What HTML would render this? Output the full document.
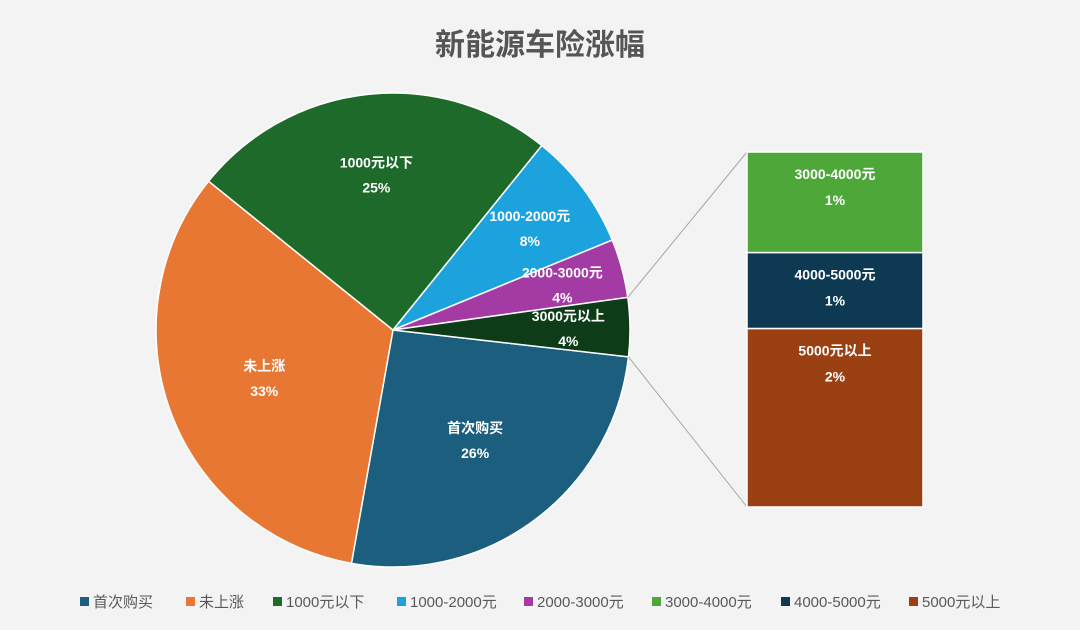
<!DOCTYPE html>
<html><head><meta charset="utf-8"><style>
html,body{margin:0;padding:0;background:#f3f3f3;}
svg{display:block;font-family:"Liberation Sans","Noto Sans CJK SC",sans-serif;}
</style></head><body>
<svg id="chart" width="1080" height="630" viewBox="0 0 1080 630">
<rect width="1080" height="630" fill="#f3f3f3"/>
<text x="540" y="55" text-anchor="middle" font-size="30" font-weight="bold" fill="#555">新能源车险涨幅</text>
<g id="pie"></g>
<g id="bar"></g>
<g id="legend"></g>
</svg>
<script>
const pieCats = ["首次购买","未上涨","1000元以下","1000-2000元","2000-3000元","3000元以上"];
const pieVals = [26,33,25,8,4,4];
const pieColors = ["#1b5e7e","#e87733","#1e6a2b","#1ca2dc","#a43ba5","#0f3c18"];
const barCats = ["3000-4000元","4000-5000元","5000元以上"];
const barVals = [1.1,0.83,1.95];
const barLabels = ["1%","1%","2%"];
const barColors = ["#4ea839","#0d3a52","#9a4013"];
const legendCats = ["首次购买","未上涨","1000元以下","1000-2000元","2000-3000元","3000-4000元","4000-5000元","5000元以上"];
const legendColors = ["#1b5e7e","#e87733","#1e6a2b","#1ca2dc","#a43ba5","#4ea839","#0d3a52","#9a4013"];

const NS="http://www.w3.org/2000/svg";
function mk(t,a,p){const e=document.createElementNS(NS,t);for(const k in a)e.setAttribute(k,a[k]);p.appendChild(e);return e;}
const cx=393,cy=330,r=237,start=6.5;
const total=pieVals.reduce((a,b)=>a+b,0);
const pie=document.getElementById('pie');
function pt(deg,rr){const a=deg*Math.PI/180;return [cx+rr*Math.cos(a),cy+rr*Math.sin(a)];}
let ang=start;
const lblR=[0.58,0.58,0.66,0.72,0.74,0.74];
pieVals.forEach((v,i)=>{
  const sw=v/total*360,a0=ang,a1=ang+sw;
  const p0=pt(a0,r),p1=pt(a1,r);
  const s=mk('path',{d:`M${cx},${cy}L${p0[0]},${p0[1]}A${r},${r} 0 ${sw>180?1:0} 1 ${p1[0]},${p1[1]}Z`,fill:pieColors[i],stroke:'#fff','stroke-width':1.5},pie);
  
  
  const m=pt((a0+a1)/2,r*lblR[i]);
  const t=mk('text',{x:m[0],y:m[1]-7,'text-anchor':'middle','font-size':14,'font-weight':'bold',fill:'#fff'},pie);
  t.textContent=pieCats[i];
  
  
  const t2=mk('text',{x:m[0],y:m[1]+18,'text-anchor':'middle','font-size':14,'font-weight':'bold',fill:'#fff'},pie);
  t2.textContent=Math.round(v)+'%';
  
  
  ang=a1;
});
const lastStart=start+360-pieVals[pieVals.length-1]/total*360;
const bx=747,bw=176,by=152,bh=355;
const bar=document.getElementById('bar');
const q0=pt(lastStart,r),q1=pt(start,r);
const l1=mk('line',{x1:q0[0],y1:q0[1],x2:bx,y2:by,stroke:'#a6a6a6','stroke-width':1},bar);


const l2=mk('line',{x1:q1[0],y1:q1[1],x2:bx,y2:by+bh,stroke:'#a6a6a6','stroke-width':1},bar);


const bt=barVals.reduce((a,b)=>a+b,0);
let yy=by;
barVals.forEach((v,i)=>{
  const h=v/bt*bh;
  const rc=mk('rect',{x:bx,y:yy,width:bw,height:h,fill:barColors[i],stroke:'#fff','stroke-width':1.5},bar);
  
  
  const t=mk('text',{x:bx+bw/2,y:yy+27,'text-anchor':'middle','font-size':14,'font-weight':'bold',fill:'#fff'},bar);
  t.textContent=barCats[i];
  
  
  const t2=mk('text',{x:bx+bw/2,y:yy+53,'text-anchor':'middle','font-size':14,'font-weight':'bold',fill:'#fff'},bar);
  t2.textContent=barLabels[i];
  
  
  yy+=h;
});
const lg=document.getElementById('legend');
const lx=[80,186,273,397,524,652,781,909];
legendCats.forEach((c,i)=>{
  const g=mk('g',{},lg);
  
  
  mk('rect',{x:lx[i],y:597,width:9,height:9,fill:legendColors[i]},g);
  const t=mk('text',{x:lx[i]+13,y:607,'font-size':15,fill:'#595959'},g);
  t.textContent=c;
});
</script>
</body></html>
